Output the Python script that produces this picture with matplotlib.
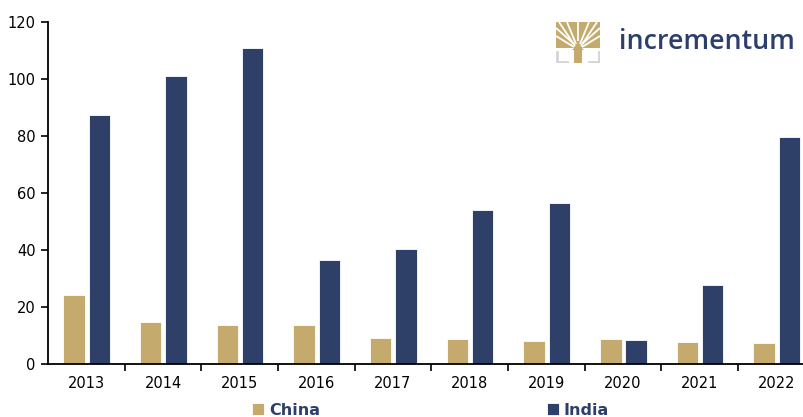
import numpy as np
import matplotlib.pyplot as plt
from matplotlib.patches import Polygon, Rectangle

# data
years = ['2013', '2014', '2015', '2016', '2017', '2018', '2019', '2020', '2021', '2022']
china = [24.2, 14.7, 13.7, 13.7, 9.1, 8.8, 8.0, 8.7, 7.8, 7.4]
india = [87.4, 101.0, 110.9, 36.5, 40.4, 54.0, 56.5, 8.4, 27.7, 79.6]

gold = '#C4AA6C'
navy = '#2E4068'

W, H = 804, 417
fig = plt.figure(figsize=(W / 100, H / 100), dpi=100)
ax = fig.add_axes([48 / W, (H - 364) / H, (804 - 48) / W, (364 - 22) / H])

x = np.arange(len(years))
ax.bar(x - 0.16, china, width=0.28, color=gold, edgecolor='white', linewidth=0.6, label='China')
ax.bar(x + 0.17, india, width=0.28, color=navy, edgecolor='white', linewidth=0.6, label='India')

ax.set_xlim(-0.5, 9.36)
ax.set_ylim(0, 120)
ax.set_yticks(range(0, 121, 20))
ax.set_xticks(x)
ax.set_xticklabels(years)
ax.set_xticks(np.arange(0.5, 9.5, 1), minor=True)
ax.tick_params(axis='x', which='major', length=0, pad=9, labelsize=10.5)
ax.tick_params(axis='x', which='minor', length=5, width=1.2, direction='out')
ax.tick_params(axis='y', length=5, width=1.2, direction='out', labelsize=10.5, pad=4)
for s in ['top', 'right']:
    ax.spines[s].set_visible(False)
for s in ['left', 'bottom']:
    ax.spines[s].set_linewidth(1.3)

leg = fig.legend(loc='lower left', bbox_to_anchor=(238 / W, -15 / H), ncol=2,
                 frameon=False, handlelength=0.75, handleheight=0.75,
                 handletextpad=0.3, columnspacing=14.2,
                 prop={'weight': 'bold', 'size': 11.5})
for t in leg.get_texts():
    t.set_color(navy)

# logo
fig.text(619 / W, (H - 42) / H, 'incrementum', fontsize=19.3, fontweight='semibold',
         family='Open Sans', color='#2C3E6B', ha='left', va='center')
lax = fig.add_axes([556 / W, (H - 63) / H, 44 / W, 41 / H])
lax.set_xlim(0, 44)
lax.set_ylim(0, 41)
lax.axis('off')
lax.add_patch(Rectangle((0, 13), 44, 28, color=gold, lw=0))
lax.add_patch(Polygon([[18, 0], [26, 0], [26, 14], [30, 18], [14, 18], [18, 14]], color=gold, lw=0))
# white gaps between branches
for x0, y0, x1, y1 in [(19, 17, 3, 41), (25, 17, 41, 41), (20, 19, 11, 41), (24, 19, 33, 41),
                       (22, 22, 22, 41), (18, 16, 0, 27), (26, 16, 44, 27), (18, 19, 0, 35),
                       (26, 19, 44, 35)]:
    lax.plot([x0, x1], [y0, y1], color='white', lw=1.3, solid_capstyle='butt')
lax.add_patch(Polygon([[0, 13], [16, 13], [18, 15], [0, 15]], color='white', lw=0))
lax.add_patch(Polygon([[44, 13], [28, 13], [26, 15], [44, 15]], color='white', lw=0))
lax.add_patch(Rectangle((0, 0), 18, 13, color='white', lw=0))
lax.add_patch(Rectangle((26, 0), 18, 13, color='white', lw=0))
lax.plot([1, 1, 11], [11, 1, 1], color='#D5D5D5', lw=2)
lax.plot([33, 43, 43], [1, 1, 11], color='#D5D5D5', lw=2)

fig.savefig('out.png', dpi=100)
